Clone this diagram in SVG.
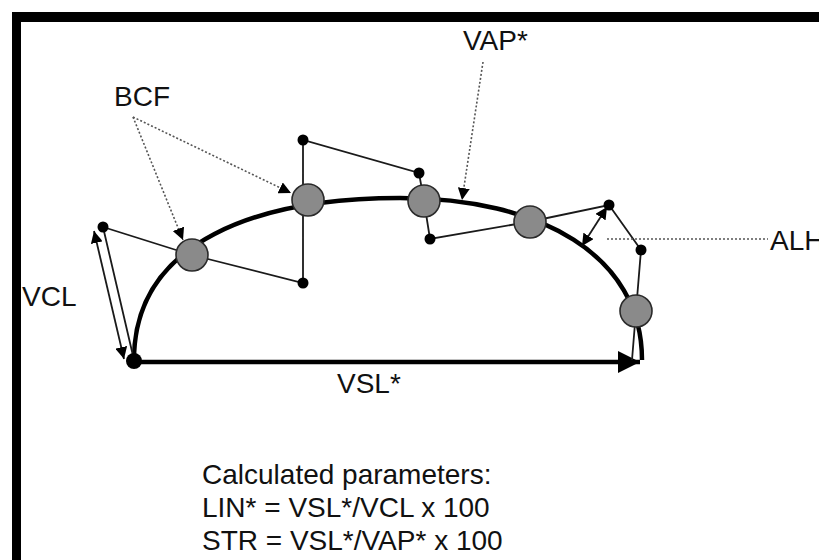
<svg xmlns="http://www.w3.org/2000/svg" width="819" height="560" viewBox="0 0 819 560">
<style>
text{font-family:"Liberation Sans",Arial,sans-serif;font-size:28px;fill:#111}
.thin{fill:none;stroke:#1a1a1a;stroke-width:1.8}
.dot{fill:none;stroke:#555;stroke-width:1.6;stroke-dasharray:2 2}
.pt{fill:#000}
.cell{fill:#8a8a8a;stroke:#2a2a2a;stroke-width:1.6}
</style>
<defs>
<marker id="ah" viewBox="0 0 10 10" refX="10" refY="5" markerWidth="12" markerHeight="12" markerUnits="userSpaceOnUse" orient="auto"><path d="M0,0 L10,5 L0,10 z" fill="#000"/></marker>
<marker id="ahs" viewBox="0 0 10 10" refX="10" refY="5" markerWidth="12" markerHeight="12" markerUnits="userSpaceOnUse" orient="auto-start-reverse"><path d="M0,0 L10,5 L0,10 z" fill="#000"/></marker>
<marker id="big" viewBox="0 0 10 10" refX="10" refY="5" markerWidth="22" markerHeight="22" markerUnits="userSpaceOnUse" orient="auto"><path d="M0,0 L10,5 L0,10 z" fill="#000"/></marker>
</defs>
<rect width="819" height="560" fill="#fff"/>
<g id="frame">
<rect x="12" y="12" width="807" height="10" fill="#000"/>
<rect x="12" y="12" width="9" height="548" fill="#000"/>
</g>
<g id="connectors">
<path id="vap-curve" d="M134,360 C134,240 260,198 400,198 C540,198 642,255 642,360" fill="none" stroke="#000" stroke-width="4.5"/>
<line id="vsl" x1="134" y1="362" x2="640" y2="362" stroke="#000" stroke-width="4.5" marker-end="url(#big)"/>
<polyline id="track" class="thin" points="134,360 103,227 192,255 303,283 303,140 419,173 424,201 430,239 528,222 609,205 641,250 636,311 632,360"/>
<line id="vcl-arrow" class="thin" x1="94" y1="231" x2="124" y2="359" marker-start="url(#ahs)" marker-end="url(#ah)"/>
<line id="alh-arrow" class="thin" x1="607" y1="207" x2="582" y2="246" marker-start="url(#ahs)" marker-end="url(#ah)"/>
<line class="dot" x1="133" y1="117" x2="183" y2="240" marker-end="url(#ah)"/>
<line class="dot" x1="133" y1="117" x2="291" y2="193" marker-end="url(#ah)"/>
<line class="dot" x1="483" y1="62" x2="462" y2="200" marker-end="url(#ah)"/>
<line class="dot" x1="607" y1="239" x2="768" y2="239"/>
</g>
<g id="points">
<circle class="pt" cx="134" cy="361" r="8"/>
<circle class="pt" cx="103" cy="227" r="5.5"/>
<circle class="pt" cx="303" cy="140" r="5.5"/>
<circle class="pt" cx="303" cy="283" r="5.5"/>
<circle class="pt" cx="419" cy="173" r="5.5"/>
<circle class="pt" cx="430" cy="239" r="5.5"/>
<circle class="pt" cx="609" cy="205" r="5.5"/>
<circle class="pt" cx="641" cy="250" r="5.5"/>
</g>
<g id="cell1"><circle class="cell" cx="192" cy="255" r="16"/></g>
<g id="cell2"><circle class="cell" cx="308" cy="200" r="16"/></g>
<g id="cell3"><circle class="cell" cx="424" cy="201" r="16"/></g>
<g id="cell4"><circle class="cell" cx="530" cy="222" r="16"/></g>
<g id="cell5"><circle class="cell" cx="636" cy="311" r="16"/></g>
<g id="labels">
<text x="114" y="106">BCF</text>
<text x="463" y="50">VAP*</text>
<text x="770" y="250">ALH</text>
<text x="22" y="306">VCL</text>
<text x="337" y="393">VSL*</text>
<text x="202" y="484">Calculated parameters:</text>
<text x="202" y="517">LIN* = VSL*/VCL x 100</text>
<text x="202" y="550">STR = VSL*/VAP* x 100</text>
</g>
</svg>
